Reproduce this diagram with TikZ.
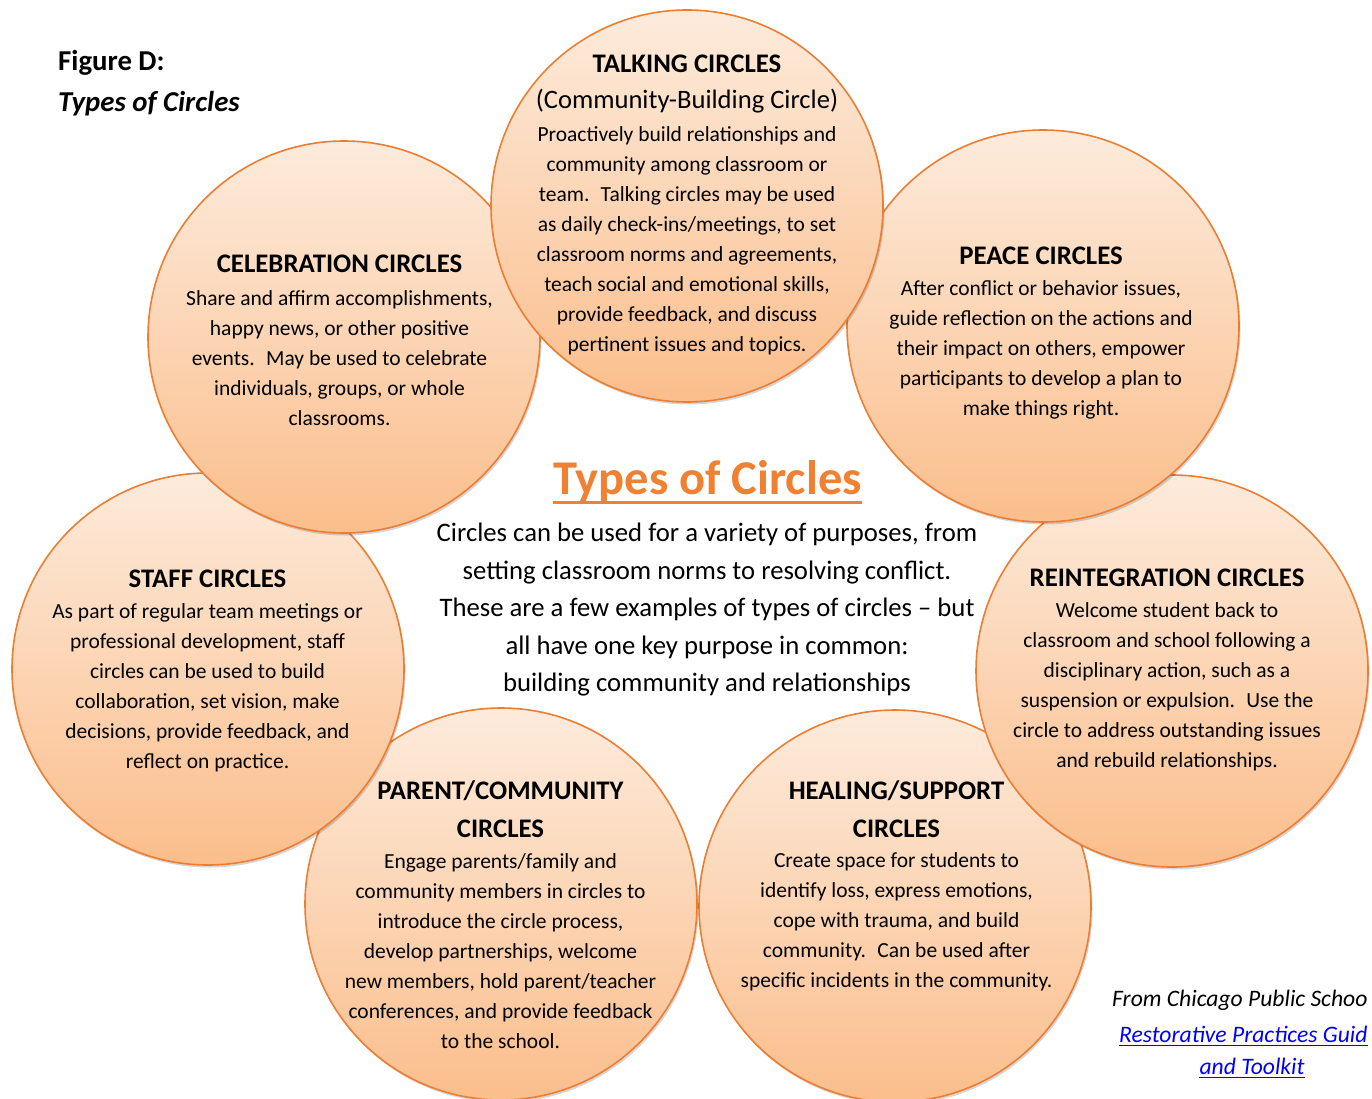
\documentclass[tikz,border=0pt]{standalone}
\usepackage{fontspec}
\setmainfont{Carlito}
\usetikzlibrary{shadows}
\definecolor{oline}{RGB}{237,125,49}
\definecolor{ctop}{RGB}{253,235,220}
\definecolor{cbot}{RGB}{251,190,140}
\definecolor{ttlc}{RGB}{240,128,50}
\definecolor{lnk}{RGB}{0,0,255}
\begin{document}
\begin{tikzpicture}[x=1pt,y=-1pt,
  circ/.style={circle, minimum size=392pt, inner sep=0pt, draw=oline, line width=1.6pt,
    top color=ctop, bottom color=cbot,
    drop shadow={shadow xshift=1.5pt, shadow yshift=-2.5pt, opacity=0.16, fill=black}},
  ctitle/.style={align=center, inner sep=0pt, font=\fontsize{26.8}{38}\selectfont\bfseries},
  csub/.style={align=center, inner sep=0pt, font=\fontsize{26.6}{34}\selectfont},
  cbody/.style={align=center, inner sep=0pt, font=\fontsize{21.5}{30}\selectfont},
  mainbody/.style={align=center, inner sep=0pt, font=\fontsize{26.7}{37.5}\selectfont},
  srcline/.style={inner sep=0pt, font=\fontsize{23.6}{30}\selectfont\itshape},
]
\useasboundingbox (0,0) rectangle (1372,1099);
\fill[white] (0,0) rectangle (1372,1099);

% Healing/Support
\node[circ] (heal) at (895,906) {};
\node[ctitle] (healT) at (896.5,809) {HEALING/SUPPORT\\CIRCLES};
\node[cbody] (healB) at (896.5,922) {Create space for students to\\identify loss, express emotions,\\cope with trauma, and build\\community.~ Can be used after\\specific incidents in the community.};

% Parent/Community
\node[circ] (par) at (501,904) {};
\node[ctitle] (parT) at (500.5,809) {PARENT/COMMUNITY\\CIRCLES};
\node[cbody] (parB) at (500.5,951) {Engage parents/family and\\community members in circles to\\introduce the circle process,\\develop partnerships, welcome\\new members, hold parent/teacher\\conferences, and provide feedback\\to the school.};

% Reintegration
\node[circ] (rein) at (1172,671) {};
\node[ctitle] (reinT) at (1167,578) {REINTEGRATION CIRCLES};
\node[cbody] (reinB) at (1167,687) {Welcome student back to\\classroom and school following a\\disciplinary action, such as a\\suspension or expulsion.~ Use the\\circle to address outstanding issues\\and rebuild relationships.};

% Staff
\node[circ] (staff) at (208,669) {};
\node[ctitle] (staffT) at (207.5,579) {STAFF CIRCLES};
\node[cbody] (staffB) at (207.5,687.5) {As part of regular team meetings or\\professional development, staff\\circles can be used to build\\collaboration, set vision, make\\decisions, provide feedback, and\\reflect on practice.};

% Peace
\node[circ] (peace) at (1043,326) {};
\node[ctitle] (peaceT) at (1041,256) {PEACE CIRCLES};
\node[cbody] (peaceB) at (1041,350) {After conflict or behavior issues,\\guide reflection on the actions and\\their impact on others, empower\\participants to develop a plan to\\make things right.};

% Celebration
\node[circ] (celeb) at (344,337) {};
\node[ctitle] (celebT) at (339.5,264) {CELEBRATION CIRCLES};
\node[cbody] (celebB) at (339.5,358) {Share and affirm accomplishments,\\happy news, or other positive\\events.~ May be used to celebrate\\individuals, groups, or whole\\classrooms.};

% Talking
\node[circ] (talk) at (687,206) {};
\node[ctitle] (talkT) at (687,64) {TALKING CIRCLES};
\node[csub] (talkS) at (687,101) {(Community-Building Circle)};
\node[cbody] (talkB) at (687,241) {Proactively build relationships and\\community among classroom or\\team.~ Talking circles may be used\\as daily check-ins/meetings, to set\\classroom norms and agreements,\\teach social and emotional skills,\\provide feedback, and discuss\\pertinent issues and topics.};

% Centre
\node[inner sep=0pt, anchor=base, text=ttlc, font=\fontsize{48.5}{56}\selectfont\bfseries] (mainT) at (707.5,494) {Types of Circles};
\draw[ttlc, line width=3.5pt] ([yshift=-8.5pt]mainT.base west) -- ([yshift=-8.5pt]mainT.base east);
\node[mainbody] (mainB) at (707,610) {Circles can be used for a variety of purposes, from\\setting classroom norms to resolving conflict.\\These are a few examples of types of circles – but\\all have one key purpose in common:\\building community and relationships};

% Figure label
\node[inner sep=0pt, anchor=base west, font=\fontsize{28.8}{32}\selectfont\bfseries] (figD) at (58,71) {Figure D:};
\node[inner sep=0pt, anchor=base west, font=\fontsize{28.8}{32}\selectfont\bfseries\itshape] (figT) at (58,112) {Types of Circles};

% Source (as printed, cut at the right edge)
\node[srcline, anchor=base west] (src1) at (1112,1006) {From Chicago Public Schoo};
\node[srcline, anchor=base west, text=lnk] (src2) at (1119,1042) {Restorative Practices Guid};
\node[srcline, anchor=base, text=lnk] (src3) at (1252,1074) {and Toolkit};
\draw[lnk, line width=1.2pt] ([yshift=-3.5pt]src2.base west) -- ([yshift=-3.5pt]src2.base east);
\draw[lnk, line width=1.2pt] ([yshift=-3.5pt]src3.base west) -- ([yshift=-3.5pt]src3.base east);
\end{tikzpicture}
\end{document}
